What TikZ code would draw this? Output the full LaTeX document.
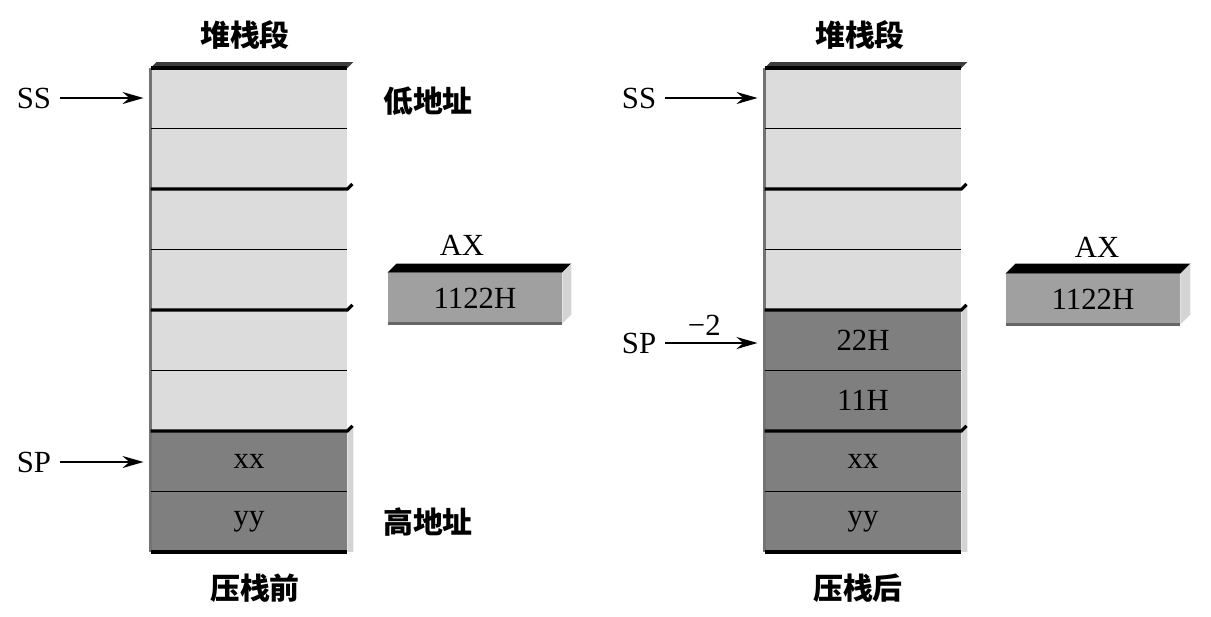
\documentclass[tikz,border=0pt]{standalone}
\usepackage{fontspec}
\setmainfont{Liberation Serif}
\newfontfamily\cjk{Noto Sans CJK SC}
\usetikzlibrary{arrows.meta, positioning}
\definecolor{grisClaro}{HTML}{DCDCDC}
\definecolor{grisOscuro}{HTML}{7F7F7F}
\definecolor{grisMedio}{HTML}{A0A0A0}
\definecolor{grisLado}{HTML}{D4D4D4}
\definecolor{grisTapa}{HTML}{3C3C3C}
\tikzset{
  celdaBase/.style={
    minimum width=3.94cm, minimum height=1.21cm,
    inner sep=0pt, outer sep=0pt,
    font=\fontsize{17.5}{19}\selectfont
  },
  celdaVacia/.style={celdaBase, fill=grisClaro},
  celdaDato/.style={celdaBase, fill=grisOscuro},
  registro/.style={celdaBase, fill=grisMedio, minimum width=3.5cm, minimum height=1.02cm},
  etiqueta/.style={font=\fontsize{17.5}{19}\selectfont, inner sep=2pt},
  etiquetaCJK/.style={font=\cjk\bfseries\fontsize{17}{19}\selectfont, inner sep=0pt},
  lineaFila/.style={line width=0.9pt, black},
  lineaBloque/.style={line width=1.8pt, black},
  flecha/.style={-{Stealth[length=0.42cm, width=0.24cm]}, line width=1.1pt, shorten >=0.14cm},
}

\begin{document}
\begin{tikzpicture}[x=0.02cm, y=-0.02cm, node distance=0pt]
    \useasboundingbox (0,0) rectangle (1211,616);

    % Pila antes del push
    \node[celdaVacia] (izq1) at (249,98.25) {};
    \node[celdaVacia, below=of izq1] (izq2) {};
    \node[celdaVacia, below=of izq2] (izq3) {};
    \node[celdaVacia, below=of izq3] (izq4) {};
    \node[celdaVacia, below=of izq4] (izq5) {};
    \node[celdaVacia, below=of izq5] (izq6) {};
    \node[celdaDato, below=of izq6] (izq7) {xx};
    \node[celdaDato, below=of izq7] (izq8) {yy};

    % Pila despues del push
    \node[celdaVacia] (der1) at (863,98.25) {};
    \node[celdaVacia, below=of der1] (der2) {};
    \node[celdaVacia, below=of der2] (der3) {};
    \node[celdaVacia, below=of der3] (der4) {};
    \node[celdaDato, below=of der4] (der5) {22H};
    \node[celdaDato, below=of der5] (der6) {11H};
    \node[celdaDato, below=of der6] (der7) {xx};
    \node[celdaDato, below=of der7] (der8) {yy};

    % caras laterales y tapas
    \fill[grisTapa] (izq1.north west) -- (izq1.north east) -- ++(6,-6) -- ([shift={(6,-6)}]izq1.north west) -- cycle;
    \fill[grisTapa] (der1.north west) -- (der1.north east) -- ++(6,-6) -- ([shift={(6,-6)}]der1.north west) -- cycle;
    \fill[grisLado] (izq7.north east) -- ++(6,-6) -- ([shift={(6,0)}]izq8.south east) -- (izq8.south east) -- cycle;
    \fill[grisLado] (der5.north east) -- ++(6,-6) -- ([shift={(6,0)}]der8.south east) -- (der8.south east) -- cycle;

    \draw[line width=1.2pt, black!55] (izq1.north west) -- (izq8.south west);
    \draw[line width=1.2pt, black!55] (der1.north west) -- (der8.south west);

    \draw[lineaFila] (izq1.south west) -- (izq1.south east);
    \draw[lineaFila] (izq3.south west) -- (izq3.south east);
    \draw[lineaFila] (izq5.south west) -- (izq5.south east);
    \draw[lineaFila] (izq7.south west) -- (izq7.south east);
    \draw[lineaFila] (der1.south west) -- (der1.south east);
    \draw[lineaFila] (der3.south west) -- (der3.south east);
    \draw[lineaFila] (der5.south west) -- (der5.south east);
    \draw[lineaFila] (der7.south west) -- (der7.south east);

    \draw[lineaBloque] (izq1.north west) -- (izq1.north east);
    \draw[lineaBloque] (izq3.north west) -- (izq3.north east) -- ++(5,-5);
    \draw[lineaBloque] (izq5.north west) -- (izq5.north east) -- ++(5,-5);
    \draw[lineaBloque] (izq7.north west) -- (izq7.north east) -- ++(5,-5);
    \draw[lineaBloque] (izq8.south west) -- (izq8.south east);
    \draw[lineaBloque] (der1.north west) -- (der1.north east);
    \draw[lineaBloque] (der3.north west) -- (der3.north east) -- ++(5,-5);
    \draw[lineaBloque] (der5.north west) -- (der5.north east) -- ++(5,-5);
    \draw[lineaBloque] (der7.north west) -- (der7.north east) -- ++(5,-5);
    \draw[lineaBloque] (der8.south west) -- (der8.south east);

    % Registro AX
    \node[registro] (axIzq) at (475,298) {1122H};
    \node[registro] (axDer) at (1093,299) {1122H};
    \fill[black] (axIzq.north west) -- (axIzq.north east) -- ++(9,-9) -- ([shift={(9,-9)}]axIzq.north west) -- cycle;
    \fill[grisLado] (axIzq.north east) -- ++(9,-9) -- ([shift={(9,-9)}]axIzq.south east) -- (axIzq.south east) -- cycle;
    \fill[black] (axDer.north west) -- (axDer.north east) -- ++(10,-10) -- ([shift={(10,-10)}]axDer.north west) -- cycle;
    \fill[grisLado] (axDer.north east) -- ++(10,-10) -- ([shift={(10,-10)}]axDer.south east) -- (axDer.south east) -- cycle;
    \draw[line width=1.2pt, black!60] (axIzq.south west) -- (axIzq.south east);
    \draw[line width=1.2pt, black!60] (axDer.south west) -- (axDer.south east);
    \node[etiqueta] (nomIzq) at (462,245) {AX};
    \node[etiqueta] (nomDer) at (1097,247) {AX};

    % Etiquetas
    \node[etiquetaCJK] (titIzq) at (245,35) {堆栈段};
    \node[etiquetaCJK] (titDer) at (860,35) {堆栈段};
    \node[etiquetaCJK] (bajo) at (428,101) {低地址};
    \node[etiquetaCJK] (alto) at (428,522) {高地址};
    \node[etiquetaCJK] (antes) at (255,588) {压栈前};
    \node[etiquetaCJK] (despues) at (858,588) {压栈后};

    \node[etiqueta] (ssIzq) at (34,98) {SS};
    \node[etiqueta] (spIzq) at (34,462) {SP};
    \node[etiqueta] (ssDer) at (639,98) {SS};
    \node[etiqueta] (spDer) at (639,343) {SP};

    \draw[flecha] ([xshift=3pt]ssIzq.east) -- (ssIzq.east -| izq1.west);
    \draw[flecha] ([xshift=3pt]spIzq.east) -- (spIzq.east -| izq7.west);
    \draw[flecha] ([xshift=3pt]ssDer.east) -- (ssDer.east -| der1.west);
    \draw[flecha] ([xshift=3pt]spDer.east) -- (spDer.east -| der5.west)
      node[etiqueta, midway, above=2pt, xshift=-6pt] (menos) {−2};
  \end{tikzpicture}
\end{document}
